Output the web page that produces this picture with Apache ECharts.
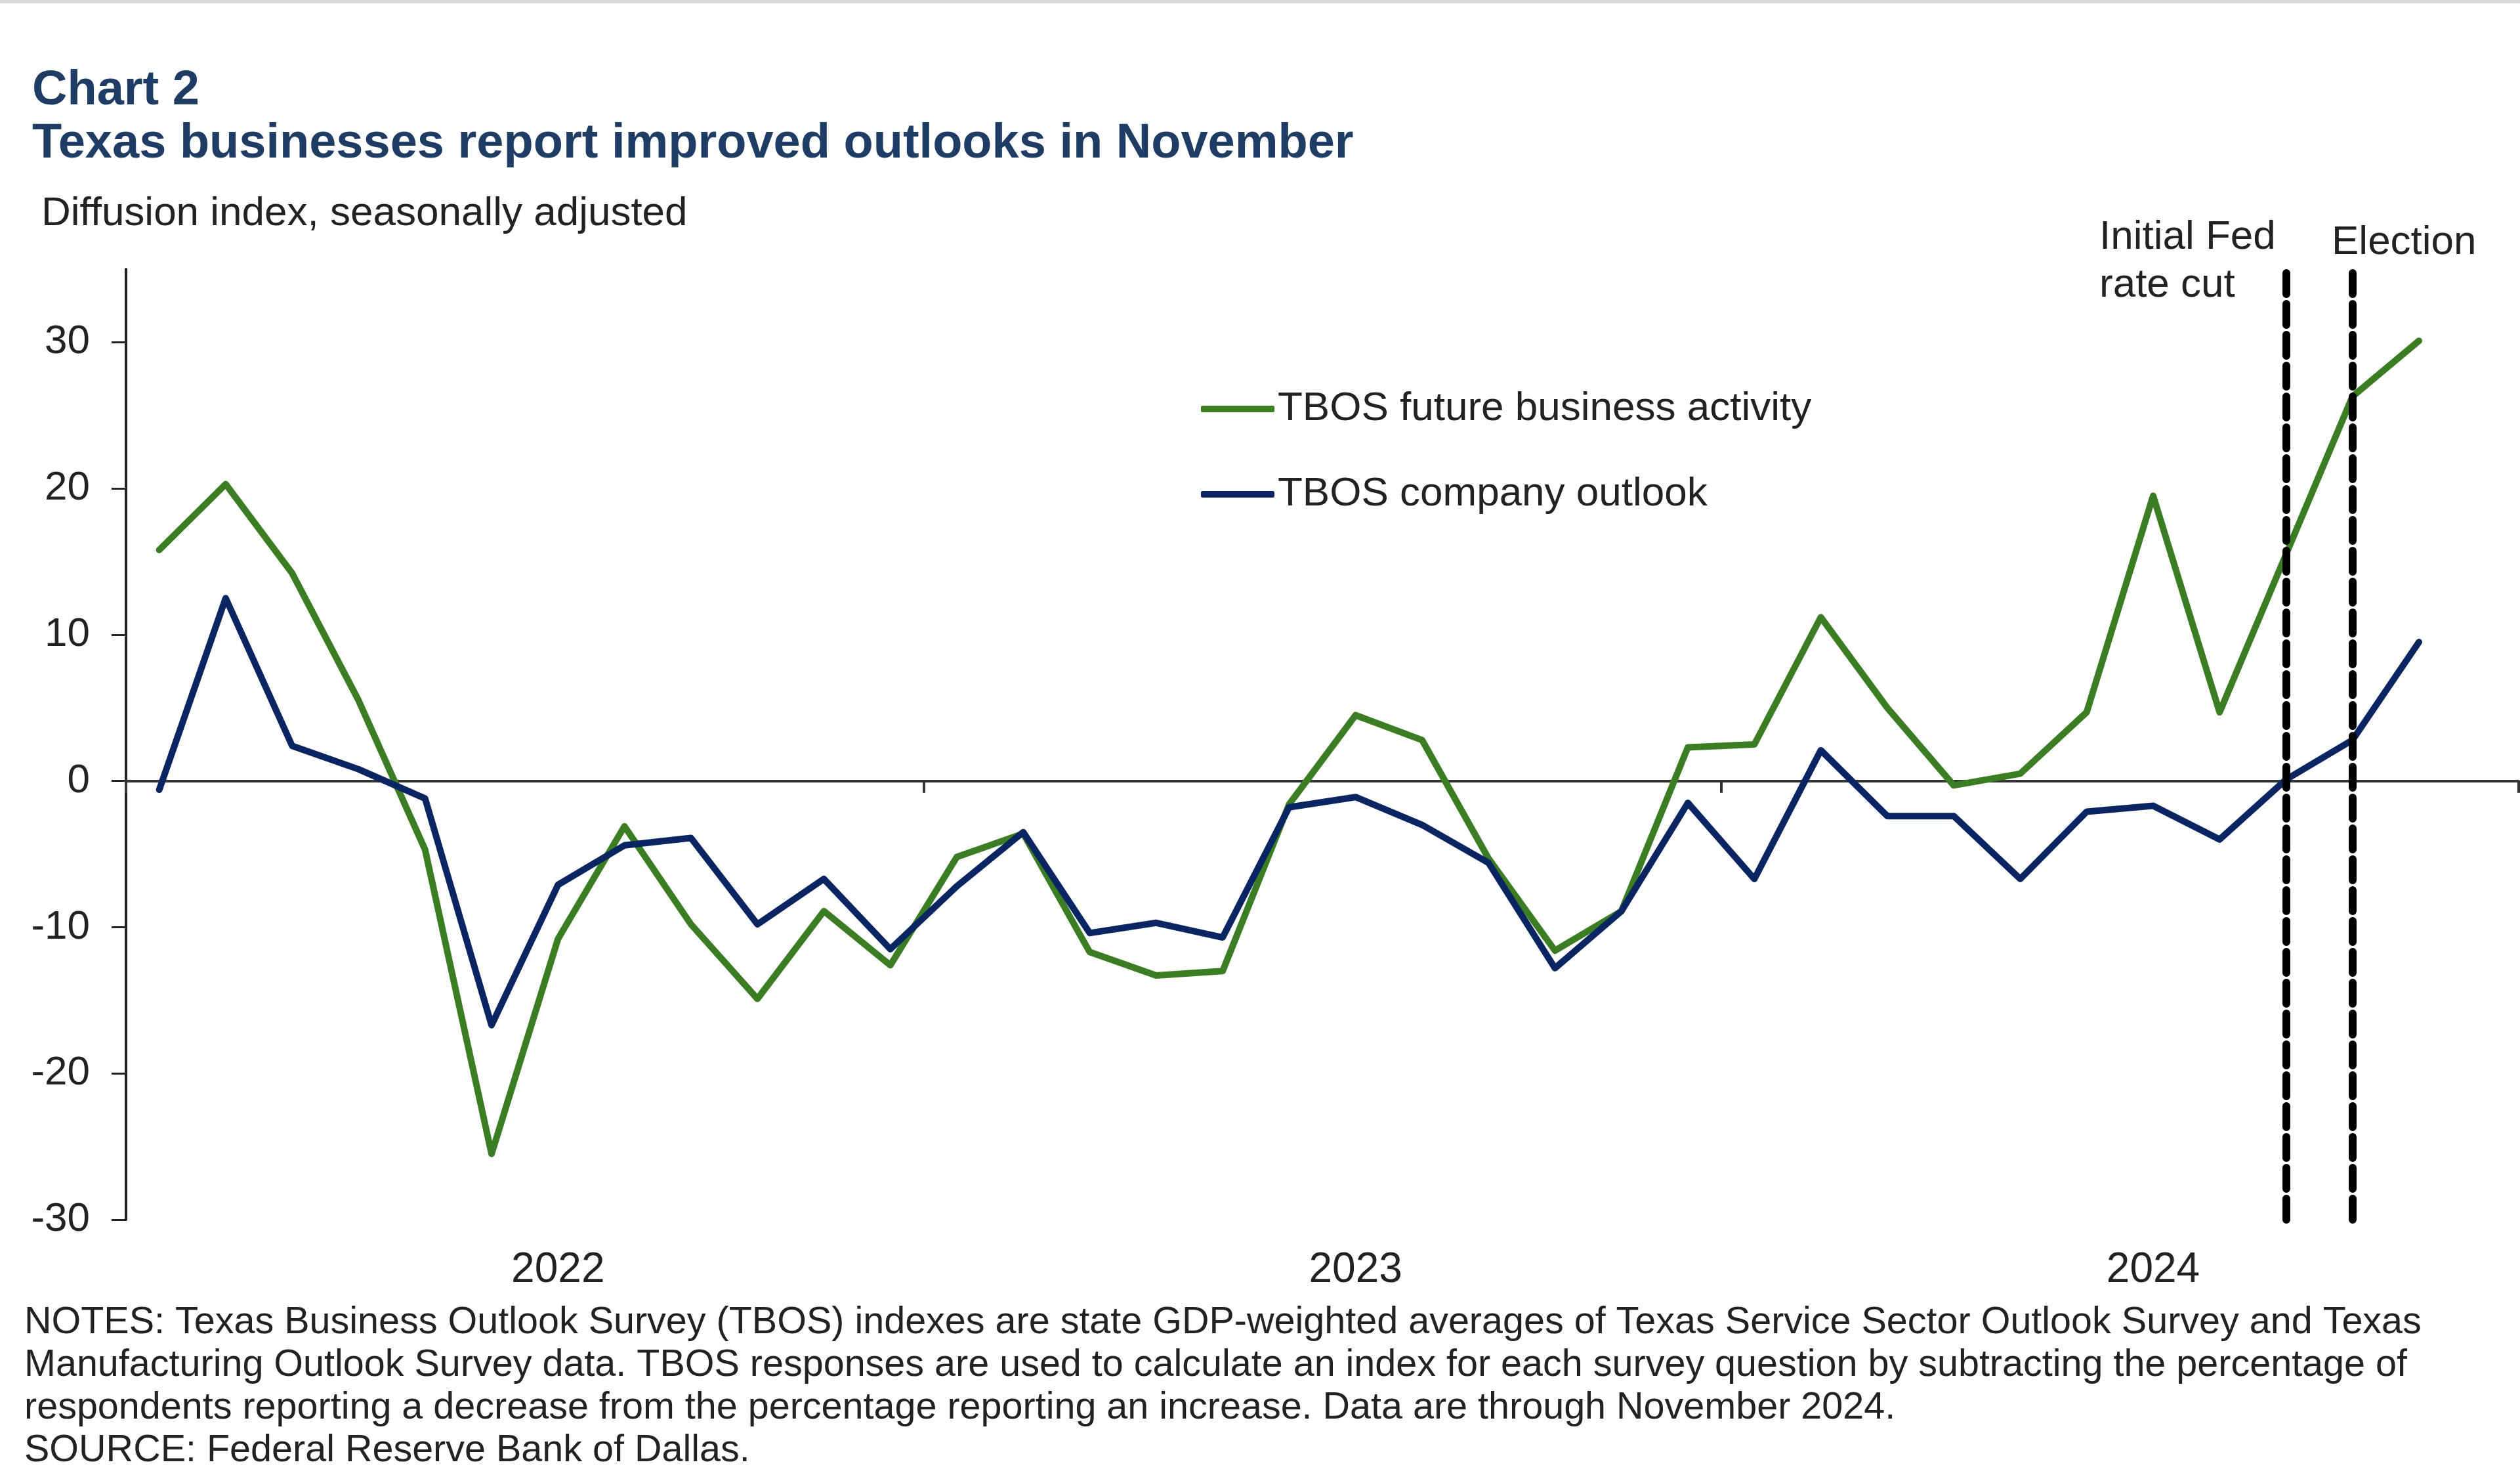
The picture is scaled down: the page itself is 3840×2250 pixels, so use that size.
<!DOCTYPE html>
<html>
<head>
<meta charset="utf-8">
<script src="https://cdn.jsdelivr.net/npm/echarts@6/dist/echarts.min.js"></script>
<style>
html,body{margin:0;padding:0;background:#fff;}
#chart{width:3840px;height:2250px;}
</style>
</head>
<body>
<div id="chart"></div>
<script>
// ---- data ----
const months = [
  '2022-01','2022-02','2022-03','2022-04','2022-05','2022-06','2022-07','2022-08','2022-09','2022-10','2022-11','2022-12',
  '2023-01','2023-02','2023-03','2023-04','2023-05','2023-06','2023-07','2023-08','2023-09','2023-10','2023-11','2023-12',
  '2024-01','2024-02','2024-03','2024-04','2024-05','2024-06','2024-07','2024-08','2024-09','2024-10','2024-11','2024-12'
];
const futureActivity = [15.8, 20.3, 14.2, 5.5, -4.7, -25.5, -10.8, -3.1, -9.8, -14.9, -8.9, -12.6,
  -5.2, -3.6, -11.7, -13.3, -13.0, -1.6, 4.5, 2.8, -5.3, -11.6, -8.9, 2.3,
  2.5, 11.2, 5.0, -0.3, 0.5, 4.7, 19.5, 4.7, 15.5, 26.3, 30.1];
const companyOutlook = [-0.6, 12.5, 2.4, 0.8, -1.2, -16.7, -7.1, -4.4, -3.9, -9.8, -6.7, -11.5,
  -7.2, -3.5, -10.4, -9.7, -10.7, -1.8, -1.1, -3.0, -5.6, -12.8, -8.9, -1.5,
  -6.7, 2.1, -2.4, -2.4, -6.7, -2.1, -1.7, -4.0, 0.1, 2.8, 9.5];
const yTicks = [-30, -20, -10, 0, 10, 20, 30];
const yearLabelMonths = ['2022-07', '2023-07', '2024-07'];
const eventMonths = ['2024-09', '2024-10'];
const seriesNames = ['TBOS future business activity', 'TBOS company outlook'];

const FONT = '"Liberation Sans", Arial, sans-serif';
const TXT = '#222222';
const GREEN = '#3B7D23';
const NAVY = '#0B2462';
const TITLE = '#1F3C64';

const chart = echarts.init(document.getElementById('chart'), null, {renderer: 'canvas'});

const option = {
  animation: false,
  backgroundColor: '#ffffff',
  textStyle: {fontFamily: FONT},
  grid: {left: 192, right: 2, top: 410, bottom: 392, containLabel: false},
  legend: {
    orient: 'vertical',
    left: 1825,
    top: 587,
    icon: 'roundRect',
    itemWidth: 112,
    itemHeight: 10,
    itemGap: 68,
    itemTextGap: 6,
    textStyle: {fontSize: 62, color: TXT, fontFamily: FONT, lineHeight: 62},
    data: seriesNames
  },
  xAxis: [
    {
      type: 'category',
      data: months,
      boundaryGap: true,
      axisLine: {show: true, onZero: true, lineStyle: {color: '#333333', width: 4}},
      axisTick: {show: true, interval: 11, length: 18, lineStyle: {color: '#333333', width: 4}},
      axisLabel: {show: false},
      splitLine: {show: false}
    },
    {
      type: 'category',
      data: months,
      boundaryGap: true,
      position: 'bottom',
      axisLine: {show: false, onZero: false},
      axisTick: {show: false},
      axisLabel: {
        show: true,
        interval: (i, v) => yearLabelMonths.indexOf(v) >= 0,
        formatter: v => v.slice(0, 4),
        fontSize: 64,
        color: TXT,
        fontFamily: FONT,
        margin: 45
      },
      splitLine: {show: false}
    }
  ],
  yAxis: {
    type: 'value',
    min: -30,
    max: 35,
    interval: 10,
    axisLine: {show: true, lineStyle: {color: '#222222', width: 4}},
    axisTick: {show: true, inside: false, length: 22, lineStyle: {color: '#222222', width: 3}, customValues: yTicks},
    axisLabel: {fontSize: 62, color: TXT, fontFamily: FONT, margin: 55, customValues: yTicks},
    splitLine: {show: false}
  },
  series: [
    {
      name: seriesNames[0],
      type: 'line',
      data: futureActivity,
      symbol: 'none',
      lineStyle: {color: GREEN, width: 10, join: 'round', cap: 'round'},
      itemStyle: {color: GREEN},
      z: 3
    },
    {
      name: seriesNames[1],
      type: 'line',
      data: companyOutlook,
      symbol: 'none',
      lineStyle: {color: NAVY, width: 10, join: 'round', cap: 'round'},
      itemStyle: {color: NAVY},
      z: 4,
      markLine: {
        silent: true,
        symbol: ['none', 'none'],
        label: {show: false},
        lineStyle: {color: '#000000', width: 12, type: [32, 15], cap: 'round'},
        data: eventMonths.map(m => ({xAxis: m}))
      }
    }
  ],
  graphic: [
    {type: 'rect', shape: {x: 0, y: 0, width: 3840, height: 5}, style: {fill: '#d9d9d9'}},
    {type: 'text', x: 49, y: 139, style: {text: 'Chart 2', font: 'bold 74px ' + FONT, fill: TITLE, verticalAlign: 'middle', align: 'left'}},
    {type: 'text', x: 49, y: 220, style: {text: 'Texas businesses report improved outlooks in November', font: 'bold 74px ' + FONT, fill: TITLE, verticalAlign: 'middle', align: 'left'}},
    {type: 'text', x: 63, y: 326, style: {text: 'Diffusion index, seasonally adjusted', font: '62px ' + FONT, fill: TXT, verticalAlign: 'middle', align: 'left'}},
    {type: 'text', x: 3199, y: 325, style: {text: 'Initial Fed\nrate cut', font: '62px ' + FONT, fill: TXT, verticalAlign: 'top', align: 'left', lineHeight: 73}},
    {type: 'text', x: 3553, y: 370, style: {text: 'Election', font: '62px ' + FONT, fill: TXT, verticalAlign: 'middle', align: 'left'}},
    {type: 'text', x: 37, y: 1983, style: {
      text: 'NOTES: Texas Business Outlook Survey (TBOS) indexes are state GDP-weighted averages of Texas Service Sector Outlook Survey and Texas\n' +
            'Manufacturing Outlook Survey data. TBOS responses are used to calculate an index for each survey question by subtracting the percentage of\n' +
            'respondents reporting a decrease from the percentage reporting an increase. Data are through November 2024.\n' +
            'SOURCE: Federal Reserve Bank of Dallas.',
      font: '57.5px ' + FONT, fill: TXT, verticalAlign: 'top', align: 'left', lineHeight: 65}}
  ]
};
chart.setOption(option);
</script>
</body>
</html>
